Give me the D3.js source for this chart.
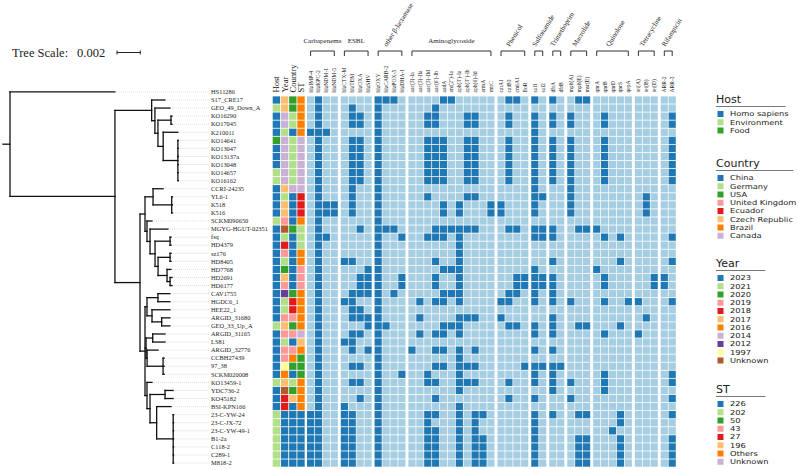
<!DOCTYPE html>
<html><head><meta charset="utf-8">
<script src="https://cdn.jsdelivr.net/npm/d3@7"></script>
<style>body{margin:0;background:#fff}svg{display:block}</style>
</head><body><svg id="c" width="798" height="470"></svg>
<script>
// ---------------- DATA ----------------
const treeScaleValue = 0.002;
const newickU = "(S17_CRE17:0.00114,(GEO_49_Down_A:0.00129,((KO16290:0.00009,KO17045:0.00009):0.00112,(K210011:0.00126,(KO14641:0.00004,KO13047:0.00004,KO13137a:0.00004,KO13048:0.00004,KO14657:0.00004,KO16162:0.00004):0.00126):0.00045):0.00026):0.00028):0.00315";
const newickA = "((CCRI-24235:0.00086,(YL6-1:0.00007,K518:0.00007,K516:0.00007):0.0016):0.00069,(SCKM090650:0.00043,(MGYG-HGUT-02351:0.00154,((fsq:0.00009,HD4379:0.00009):0.00129,((sz176:0.00009,HD8405:0.00009):0.00103,(HD7768:0.00034,(HD2691:0.00017,HD6177:0.00017):0.00026):0.00077):0.00026):0.00043):0.00026):0.00017):0.00043";
const newickB = "(((CAV1755:0.00103,HGDC6_1:0.00103):0.00094,(HEE22_1:0.00154,(ARGID_31680:0.00071,GEO_33_Up_A:0.00071):0.00083):0.00043):0.00017,((ARGID_31165:0.00106,LS81:0.00106):0.00057,(ARGID_32776:0.00094,(CCBH27439:0.00009,97_38:0.00009,SCKM020008:0.00009):0.00137):0.00009):0.00009,(KO13459-1:0.00043,((YDC736-2:0.00069,KO45182:0.00069):0.00129,(BSI-KPN166:0.00123,(23-C-YW-24:0.00004,23-C-JX-72:0.00004,23-C-YW-49-1:0.00004,B1-2a:0.00004,C118-2:0.00004,C289-1:0.00004,M818-2:0.00004):0.00142):0.00057):0.00026):0.00017):0.00043";
const newick = "(HS11286:0.00901,(" + newickU + ",(" + newickA + "," + newickB + "):0.00215):0.00901):0.0006;";

const leafNames = ["HS11286","S17_CRE17","GEO_49_Down_A","KO16290","KO17045","K210011","KO14641","KO13047","KO13137a","KO13048","KO14657","KO16162","CCRI-24235","YL6-1","K518","K516","SCKM090650","MGYG-HGUT-02351","fsq","HD4379","sz176","HD8405","HD7768","HD2691","HD6177","CAV1755","HGDC6_1","HEE22_1","ARGID_31680","GEO_33_Up_A","ARGID_31165","LS81","ARGID_32776","CCBH27439","97_38","SCKM020008","KO13459-1","YDC736-2","KO45182","BSI-KPN166","23-C-YW-24","23-C-JX-72","23-C-YW-49-1","B1-2a","C118-2","C289-1","M818-2"];
const heatRows = leafNames.slice(1);

const H="Homo sapiens", E="Environment", F="Food";
const hostData = [H,E,H,H,H,F,H,H,H,E,E,H,H,H,H,E,H,H,H,H,H,H,H,H,H,H,H,H,E,H,H,H,H,H,H,E,H,H,H,E,E,E,E,E,E,E];
const yearData = ["2017","2017","2014","2014","2021","2014","2014","2014","2014","2014","2014","2017","2021","2017","2017","2019","Unknown","2021","2018","2019","2021","2020","2017","2019","2012","2021","2021","2019","2017","2019","2021","2019","2019","1997","2016","2017","Unknown","2018","2018","2023","2023","2023","2023","2023","2023","2023"];
const countryData = ["USA","USA","Germany","Germany","China","Germany","Germany","Germany","Germany","Germany","Germany","Canada","China","China","China","China","USA","China","China","China","China","China","China","China","USA","Ecuador","Ecuador","United Kingdom","USA","United Kingdom","China","United Kingdom","Brazil","USA","China","Germany","USA","Czech Republic","China","China","China","China","China","China","China","China"];
const stData = ["Others","Others","Others","Others","Others","Unknown","Unknown","Unknown","Unknown","Unknown","Unknown","Unknown","27","27","27","Others","202","202","202","Others","Others","43","43","43","Others","Others","Others","Others","Others","Unknown","196","Others","50","50","50","Others","Others","Others","Others","226","226","226","226","226","226","226"];
const metaNames = ["Host","Year","Country","ST"];

const geneGroups = ["Carbapenems","ESBL","other β-lactamase","Aminoglycoside","Phenicol","Sulfonamide","Trimethoprim","Macrolide","Quinolone","Tetracycline","Rifampicin"];
const geneNames = [
  ["blaIMP-4","blaKPC-2","blaNDM-1","blaNDM-5"],
  ["blaCTX-M","blaTEM","blaOXA","blaSHV"],
  ["blaOXY","blaCARB-2","blaPOX-5","blaDHA-1"],
  ["aac(3)-Ia","aac(3)-IIa","aac(3)-IId","aac(6')-Ib","aadA","ant(2'')-Ia","aph(3')-Ia","aph(3'')-Ib","aph(6)-Id","armA","rmtC"],
  ["catA1","catB3","cmlA1","floR"],
  ["sul1","sul2"],
  ["dfrA","dfrB"],
  ["mph(A)","mph(E)","msr(E)"],
  ["qnrA","qnrB","qnrD","qnrS","qepA"],
  ["tet(A)","tet(B)","tet(D)"],
  ["ARR-2","ARR-3"]
];
// presence (1) / absence (0), groups separated by spaces, one string per heatmap row
const genePresence = [
"0100 0000 1110 00001100000 0110 10 10 011 00000 000 00",
"0100 0100 1000 00010000000 0000 00 00 000 00000 000 00",
"0100 0110 1000 00110001100 0100 10 10 100 01000 000 01",
"0100 0110 1000 00110001100 0100 10 10 100 01000 000 01",
"1110 0000 1000 00000000000 0000 10 00 000 00000 000 00",
"0100 0110 1000 00111001100 0100 10 10 100 01000 000 01",
"0100 0110 1000 00111001100 0100 10 10 100 01000 000 01",
"0100 0110 1000 00111001100 0100 10 10 100 01000 000 01",
"0100 0110 1000 00111001100 0100 10 10 100 01000 000 01",
"0100 0110 1000 00111001100 0100 10 10 100 01000 000 01",
"0100 0110 1000 00111001100 0100 10 10 100 01000 000 01",
"0100 0100 1000 00000000000 0000 10 00 100 00000 000 00",
"0100 0100 1000 00100001100 0000 11 00 100 00000 010 00",
"0111 0100 1000 00001010001 1000 10 00 100 00000 010 00",
"0111 0100 1000 00001010001 1000 10 00 100 00000 010 00",
"0100 0000 1000 00000000000 0000 00 00 000 00000 000 00",
"0100 0010 1110 00011111100 0110 11 10 011 10000 000 00",
"0110 0000 1001 00111010000 0000 11 10 000 01010 000 01",
"0100 0000 1000 00000010000 0000 00 00 000 00000 000 00",
"0100 0000 1000 00000010000 0000 00 00 000 00000 000 00",
"0100 1100 1000 00010010000 0000 00 10 000 00010 000 01",
"0100 0001 1000 00001110000 0000 10 00 000 10000 000 00",
"0100 0011 1001 00010010000 0011 11 10 000 01000 001 10",
"0100 0011 1001 00010010000 0011 11 10 000 01000 001 10",
"0100 0111 1010 00001110000 0110 10 10 000 00000 000 00",
"0100 1100 1000 01011010000 1100 10 10 100 01001 100 01",
"0100 0110 1000 00000000000 0000 00 00 000 00000 000 00",
"0100 0111 1000 01000011100 1000 00 10 000 00000 010 00",
"0100 0001 1100 00001110000 0110 10 10 011 00010 000 00",
"0100 0110 1000 01011010000 0000 10 10 000 01000 100 00",
"0100 1100 1000 00000000000 0000 00 00 000 00000 000 00",
"0100 0101 1000 10011010100 0000 10 10 000 00000 000 00",
"0100 0000 1000 00000010000 0000 00 00 000 00000 000 00",
"0100 0110 1000 00011011100 0001 11 11 000 00000 000 00",
"0100 0000 1001 00100010000 0000 10 10 000 01000 000 01",
"0100 0110 1000 00110011100 0100 10 10 100 01000 000 01",
"0100 0000 1000 00000010000 0000 00 10 000 01000 000 00",
"0100 0010 1000 00010000000 0100 10 00 100 00000 000 01",
"0100 1000 1000 00000010000 0000 00 00 000 00000 000 00",
"1100 1100 1000 00110010110 0000 10 10 011 00010 000 01",
"1100 1100 1000 00100010100 0000 10 00 000 00010 000 00",
"1100 1100 1000 00110010100 0000 10 00 000 00100 000 00",
"1100 1100 1000 00110010110 0000 10 00 011 00010 000 01",
"1100 1100 1000 00110010110 0000 10 00 011 00010 000 01",
"1100 1100 1000 00110010110 0000 10 00 011 00010 000 01",
"1100 1100 1000 00110010110 0000 10 00 011 00010 000 01"
];

const hostLevels = ["Homo sapiens","Environment","Food"];
const countryLevels = ["China","Germany","USA","United Kingdom","Ecuador","Czech Republic","Brazil","Canada"];
const yearLevels = ["2023","2021","2020","2019","2018","2017","2016","2014","2012","1997","Unknown"];
const stLevels = ["226","202","50","43","27","196","Others","Unknown"];
const paired = ["#1f78b4","#b2df8a","#33a02c","#fb9a99","#e31a1c","#fdbf6f","#ff7f00","#cab2d6","#6a3d9a","#ffff99","#b15928"];

// ---------------- LAYOUT ----------------
const svg = d3.select("#c");
const serif = "'Liberation Serif','Times New Roman',serif";
const sans = "'DejaVu Sans',Arial,sans-serif";

const yBand = d3.scaleBand().domain(leafNames).range([88.3, 466.7]).paddingInner(0.1);
const yC = n => yBand(n) + yBand.bandwidth()/2;

// tree
function parseNewick(s){
  let i=0;
  function node(){
    const n={};
    if(s[i]==='('){ n.children=[]; i++; n.children.push(node()); while(s[i]===','){i++; n.children.push(node());} i++; }
    let name=''; while(i<s.length && !',():;'.includes(s[i])) name+=s[i++];
    n.name=name;
    n.length=0;
    if(s[i]===':'){ i++; let num=''; while(i<s.length && !',();'.includes(s[i])) num+=s[i++]; n.length=+num; }
    return n;
  }
  return node();
}
const root = d3.hierarchy(parseNewick(newick));
root.each(d => { d.dist = (d.parent ? d.parent.dist : 0) + d.data.length; });
const xTree = d3.scaleLinear().domain([0, treeScaleValue]).range([3, 3+23.3]);
root.eachAfter(d => {
  d.yy = d.children ? (d.children[0].yy + d.children[d.children.length-1].yy)/2 : yC(d.data.name);
});
const gTree = svg.append("g").attr("stroke","#111").attr("stroke-width",1.3).attr("fill","none").attr("stroke-linecap","square");
root.each(d => {
  const x0 = xTree(d.parent ? d.parent.dist : 0), x1 = xTree(d.dist);
  gTree.append("line").attr("x1",x0).attr("x2",x1).attr("y1",d.yy).attr("y2",d.yy);
  if (d.children){
    gTree.append("line").attr("x1",x1).attr("x2",x1).attr("y1",d.children[0].yy).attr("y2",d.children[d.children.length-1].yy);
  }
});
const labelX = 211;
svg.append("g").selectAll("line").data(root.leaves()).join("line")
  .attr("x1", d => xTree(d.dist)+2).attr("x2", labelX-2)
  .attr("y1", d => d.yy).attr("y2", d => d.yy)
  .attr("stroke","#c8c8c8").attr("stroke-width",0.6).attr("stroke-dasharray","1,1");
svg.append("g").selectAll("text").data(leafNames).join("text")
  .attr("x", labelX).attr("y", d => yC(d)).attr("dy","0.35em")
  .attr("font-family", serif).attr("font-size", 6.4).attr("fill","#222").text(d => d);

// tree scale
svg.append("text").attr("x",12).attr("y",57).attr("font-family",serif).attr("font-size",12.5).attr("fill","#222").text("Tree Scale:");
svg.append("text").attr("x",77).attr("y",57).attr("font-family",serif).attr("font-size",12.5).attr("fill","#222").text(String(treeScaleValue));
const sbX = d3.scaleLinear().domain([0,treeScaleValue]).range([117,117+23.3]);
const gsb = svg.append("g").attr("stroke","#222").attr("stroke-width",1);
gsb.append("line").attr("x1",sbX(0)).attr("x2",sbX(treeScaleValue)).attr("y1",52.5).attr("y2",52.5);
gsb.append("line").attr("x1",sbX(0)).attr("x2",sbX(0)).attr("y1",50.5).attr("y2",54.5);
gsb.append("line").attr("x1",sbX(treeScaleValue)).attr("x2",sbX(treeScaleValue)).attr("y1",50.5).attr("y2",54.5);

// metadata columns
const metaX = d3.scaleBand().domain(metaNames).range([272.7, 304.7]).paddingInner(0.1);
const metaColor = {
  Host: d3.scaleOrdinal(hostLevels, paired),
  Year: d3.scaleOrdinal(yearLevels, paired),
  Country: d3.scaleOrdinal(countryLevels, paired),
  ST: d3.scaleOrdinal(stLevels, paired)
};
const metaData = {Host: hostData, Year: yearData, Country: countryData, ST: stData};
const gMeta = svg.append("g");
metaNames.forEach(m => {
  gMeta.selectAll(null).data(heatRows).join("rect")
    .attr("x", metaX(m)).attr("y", d => yBand(d)).attr("width", metaX.bandwidth()).attr("height", yBand.bandwidth())
    .attr("fill", (d,i) => metaColor[m](metaData[m][i]));
  gMeta.append("text").attr("transform",`translate(${metaX(m)+metaX.bandwidth()/2+3},92.5) rotate(-90)`)
    .attr("font-family",serif).attr("font-size",8.6).attr("fill","#111").text(m);
});

// gene columns
const geneCols = [];
geneNames.forEach((g,gi) => g.forEach((n,j) => geneCols.push({name:n, group:gi, slot: geneCols.length + gi*0.28})));
const nSlots = geneCols[geneCols.length-1].slot + 1;
const xGene = d3.scaleLinear().domain([0, nSlots]).range([307, 676.5]);
const pitch = xGene(1)-xGene(0);
const cellW = pitch*0.91;
const gHeat = svg.append("g");
heatRows.forEach((r,ri) => {
  const bits = genePresence[ri].replace(/ /g,"");
  gHeat.selectAll(null).data(geneCols).join("rect")
    .attr("x", d => xGene(d.slot)).attr("y", yBand(r))
    .attr("width", cellW).attr("height", yBand.bandwidth())
    .attr("fill", (d,i) => bits[i]==="1" ? "#1f78b4" : "#a6cee3");
});
// gene labels
svg.append("g").selectAll("text").data(geneCols).join("text")
  .attr("transform", d => `translate(${xGene(d.slot)+cellW/2+2},92.5) rotate(-90)`)
  .attr("font-family",serif).attr("font-size",5.6).attr("fill","#222").text(d => d.name);
// group brackets & labels
const rotatedGroups = new Set([2,4,5,6,7,8,9,10]);
geneGroups.forEach((g,gi) => {
  const cols = geneCols.filter(c => c.group===gi);
  const xa = xGene(cols[0].slot)+cellW/2, xb = xGene(cols[cols.length-1].slot)+cellW/2;
  svg.append("path").attr("d",`M${xa},56V51H${xb}V56`).attr("fill","none").attr("stroke","#333").attr("stroke-width",1);
  const xm = (xa+xb)/2;
  if (rotatedGroups.has(gi)) {
    svg.append("text").attr("transform",`translate(${xm-3},47) rotate(-58)`)
      .attr("font-family",serif).attr("font-size",7).attr("fill","#222").text(g);
  } else {
    svg.append("text").attr("x",xm).attr("y",43).attr("text-anchor","middle")
      .attr("font-family",serif).attr("font-size",7).attr("fill","#222").text(g);
  }
});

// legends
const legends = [
  {title:"Host", levels:hostLevels, colors:paired, top:99},
  {title:"Country", levels:countryLevels, colors:paired, top:163},
  {title:"Year", levels:yearLevels, colors:paired, top:263},
  {title:"ST", levels:stLevels, colors:paired, top:389}
];
legends.forEach(L => {
  const g = svg.append("g");
  g.append("text").attr("x",716).attr("y",L.top+4).attr("font-family",sans).attr("font-size",11).attr("fill","#222").text(L.title);
  const items = g.selectAll("g.it").data(L.levels).join("g").attr("class","it")
    .attr("transform",(d,i)=>`translate(717,${L.top+15+i*8.25})`);
  items.append("rect").attr("x",0.5).attr("y",-3).attr("width",6).attr("height",6).attr("fill",(d,i)=>L.colors[i]);
  const tx = items.append("text").attr("transform","translate(13,0) scale(1.2,1)").attr("dy","0.35em")
    .attr("font-family",sans).attr("font-size",6.9).attr("fill","#222").text(d=>d);
  let w = 0; tx.each(function(){ w = Math.max(w, this.getComputedTextLength()*1.2); });
  g.append("line").attr("x1",716).attr("x2",716+13+w-2).attr("y1",L.top+7.5).attr("y2",L.top+7.5).attr("stroke","#555").attr("stroke-width",0.8);
});
</script>
</body></html>
